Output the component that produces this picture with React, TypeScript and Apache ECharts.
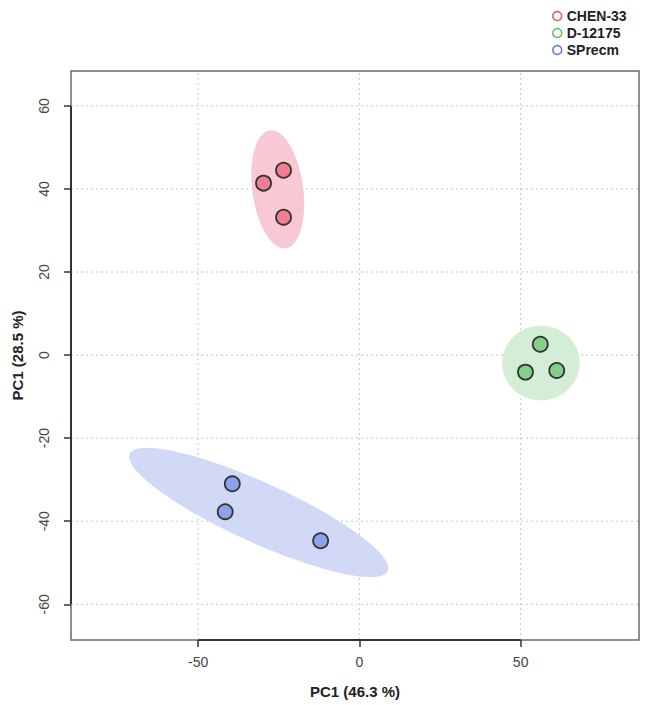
import React, { useEffect, useRef } from "react";
import * as echarts from "echarts";

const groups = ["CHEN-33", "D-12175", "SPrecm"];
const xTicks = [-50, 0, 50];
const yTicks = [-60, -40, -20, 0, 20, 40, 60];

const chenX = [-29.7, -23.5, -23.5];
const chenY = [41.4, 44.5, 33.2];
const d12175X = [56.1, 51.5, 61.2];
const d12175Y = [2.6, -4.1, -3.7];
const sprecmX = [-39.4, -41.6, -12.0];
const sprecmY = [-31.0, -37.7, -44.7];

// confidence ellipses: centre, major half-axis vector, minor half-axis vector (data units)
const ellipseCenterX = [-25.3, 56.3, -31.2];
const ellipseCenterY = [39.9, -1.9, -37.9];
const ellipseMajorX = [-2.5, 12, 40.0];
const ellipseMajorY = [14.2, 0, -14.1];
const ellipseMinorX = [7.8, 0, -3.8];
const ellipseMinorY = [0.84, 9, -6.6];

const X_MIN = -89.4;
const X_MAX = 86.7;
const Y_MIN = -68.6;
const Y_MAX = 68.4;

const legendColors = ["#e8506e", "#5cbf5c", "#5a78e0"];
const pointColors = ["#ee7d96", "#85d089", "#8ea2ec"];
const ellipseColors = ["#f8c9d5", "#d3eed5", "#d2d9f6"];

const FONT = "Liberation Sans, Arial, sans-serif";

export default function App() {
  const ref = useRef<HTMLDivElement>(null);

  useEffect(() => {
    document.body.style.margin = "0";
    if (!ref.current) return;
    const chart = echarts.init(ref.current, null, { renderer: "svg" });

    const pointSets = [
      chenX.map((x, i) => [x, chenY[i]]),
      d12175X.map((x, i) => [x, d12175Y[i]]),
      sprecmX.map((x, i) => [x, sprecmY[i]]),
    ];

    const ellipseSeries = groups.map((g, k) => ({
      type: "custom",
      name: "ellipse-" + g,
      silent: true,
      z: 2,
      data: [[ellipseCenterX[k], ellipseCenterY[k]]],
      encode: { x: 0, y: 1 },
      renderItem: (_params: any, api: any) => {
        const pts: number[][] = [];
        const n = 90;
        for (let i = 0; i <= n; i++) {
          const t = (i / n) * Math.PI * 2;
          const x = ellipseCenterX[k] + ellipseMajorX[k] * Math.cos(t) + ellipseMinorX[k] * Math.sin(t);
          const y = ellipseCenterY[k] + ellipseMajorY[k] * Math.cos(t) + ellipseMinorY[k] * Math.sin(t);
          pts.push(api.coord([x, y]));
        }
        return {
          type: "polygon",
          shape: { points: pts },
          style: { fill: ellipseColors[k], stroke: "none" },
        };
      },
    }));

    const frameSeries = {
      type: "custom",
      name: "frame",
      silent: true,
      z: 1,
      clip: false,
      data: [[0, 0]],
      encode: { x: 0, y: 1 },
      renderItem: (_params: any, api: any) => {
        const children: any[] = [];
        const dash = { stroke: "#c8c8c8", lineWidth: 1, lineDash: [2, 3] };
        xTicks.forEach((v) => {
          const a = api.coord([v, Y_MIN]);
          const b = api.coord([v, Y_MAX]);
          children.push({ type: "line", shape: { x1: a[0], y1: a[1], x2: b[0], y2: b[1] }, style: dash });
        });
        yTicks.forEach((v) => {
          const a = api.coord([X_MIN, v]);
          const b = api.coord([X_MAX, v]);
          children.push({ type: "line", shape: { x1: a[0], y1: a[1], x2: b[0], y2: b[1] }, style: dash });
        });
        const ax1 = api.coord([xTicks[0], Y_MIN]);
        const ax2 = api.coord([xTicks[xTicks.length - 1], Y_MIN]);
        children.push({
          type: "line",
          shape: { x1: ax1[0], y1: ax1[1], x2: ax2[0], y2: ax2[1] },
          style: { stroke: "#333", lineWidth: 2 },
          z2: 10,
        });
        const ay1 = api.coord([X_MIN, yTicks[0]]);
        const ay2 = api.coord([X_MIN, yTicks[yTicks.length - 1]]);
        children.push({
          type: "line",
          shape: { x1: ay1[0], y1: ay1[1], x2: ay2[0], y2: ay2[1] },
          style: { stroke: "#333", lineWidth: 2 },
          z2: 10,
        });
        return { type: "group", children };
      },
    };

    const scatterSeries = groups.map((g, k) => ({
      type: "scatter",
      name: g,
      z: 5,
      symbol: "circle",
      symbolSize: 15,
      data: pointSets[k],
      itemStyle: { color: pointColors[k], borderColor: "#333", borderWidth: 1.8, opacity: 1 },
    }));

    chart.setOption({
      animation: false,
      backgroundColor: "#ffffff",
      grid: {
        left: 71,
        right: 6,
        top: 71,
        bottom: 65,
        show: true,
        borderColor: "#6a6a6a",
        borderWidth: 1.5,
        backgroundColor: "transparent",
      },
      legend: {
        orient: "vertical",
        left: 547,
        top: 4,
        itemWidth: 9,
        itemHeight: 9,
        itemGap: 3,
        selectedMode: false,
        textStyle: { fontFamily: FONT, fontWeight: "bold", fontSize: 14, color: "#222" },
        data: groups.map((g, k) => ({
          name: g,
          icon: "circle",
          itemStyle: { color: "#fff", borderColor: legendColors[k], borderWidth: 1.5 },
        })),
      },
      xAxis: {
        type: "value",
        min: X_MIN,
        max: X_MAX,
        name: "PC1 (46.3 %)",
        nameLocation: "middle",
        nameGap: 44,
        nameTextStyle: { fontFamily: FONT, fontWeight: "bold", fontSize: 15, color: "#222" },
        axisLine: { show: false, onZero: false },
        splitLine: { show: false },
        axisTick: {
          show: true,
          customValues: xTicks,
          length: 7,
          lineStyle: { color: "#333", width: 1.5 },
        },
        axisLabel: {
          customValues: xTicks,
          margin: 15,
          fontFamily: FONT,
          fontSize: 14,
          color: "#444",
        },
      },
      yAxis: {
        type: "value",
        min: Y_MIN,
        max: Y_MAX,
        name: "PC1 (28.5 %)",
        nameLocation: "middle",
        nameGap: 46,
        nameRotate: 90,
        nameTextStyle: { fontFamily: FONT, fontWeight: "bold", fontSize: 15, color: "#222" },
        axisLine: { show: false, onZero: false },
        splitLine: { show: false },
        axisTick: {
          show: true,
          customValues: yTicks,
          length: 7,
          lineStyle: { color: "#333", width: 1.5 },
        },
        axisLabel: {
          customValues: yTicks,
          rotate: 90,
          margin: 20,
          fontFamily: FONT,
          fontSize: 14,
          color: "#444",
        },
      },
      series: [frameSeries, ...ellipseSeries, ...scatterSeries],
    });

    return () => chart.dispose();
  }, []);

  return <div ref={ref} style={{ width: 645, height: 705 }} />;
}
